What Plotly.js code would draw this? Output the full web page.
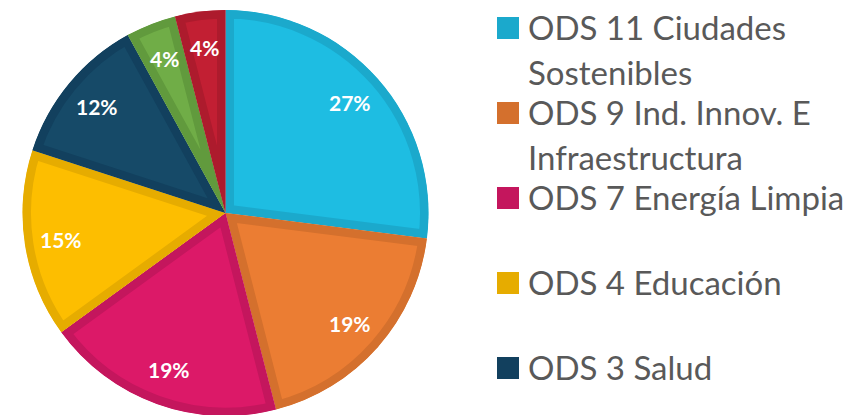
<!DOCTYPE html>
<html><head><meta charset="utf-8">
<script src="https://cdn.plot.ly/plotly-3.0.1.min.js"></script>
<style>html,body{margin:0;padding:0;overflow:hidden;background:#fff}#chart{width:856px;height:421px}</style>
</head><body><div id="chart"></div>
<script>
// ---- data ----
var categories = ["ODS 11 Ciudades Sostenibles", "ODS 9 Ind. Innov. E Infraestructura", "ODS 7 Energía Limpia", "ODS 4 Educación", "ODS 3 Salud", "Otro 1", "Otro 2"];
var values = [27, 19, 19, 15, 12, 4, 4];
var legendLines = [["ODS 11 Ciudades", "Sostenibles"], ["ODS 9 Ind. Innov. E", "Infraestructura"], ["ODS 7 Energía Limpia"], ["ODS 4 Educación"], ["ODS 3 Salud"]];
var fillColors = ["#1EBDE2", "#EB7D33", "#DC1968", "#FDBE00", "#164A68", "#70AD47", "#C21F33"];
var borderColors = ["#1BA9CC", "#D4702D", "#C4165D", "#E6AC00", "#12405E", "#619A3D", "#AD1B2D"];

// ---- geometry ----
var W = 856, H = 421;
var cx = 225.5, cy = 213, R = 203;

var trace = {
  type: "pie",
  labels: categories,
  values: values,
  sort: false,
  direction: "clockwise",
  rotation: 0,
  textinfo: "none",
  hoverinfo: "skip",
  showlegend: false,
  domain: {x: [(cx - R) / W, (cx + R) / W], y: [(H - (cy + R)) / H, (H - (cy - R)) / H]},
  marker: {colors: fillColors, line: {color: borderColors, width: 17}}
};

var total = values.reduce(function (a, b) { return a + b; }, 0);
var annotations = [], shapes = [];
var cum = 0;
values.forEach(function (v) {
  var mid = (cum + v / 2) / total * 2 * Math.PI;
  cum += v;
  var rr = 0.82 * R;
  var px = cx + rr * Math.sin(mid), py = cy - rr * Math.cos(mid);
  annotations.push({
    text: Math.round(v / total * 100) + "%",
    x: px / W, y: 1 - py / H, xref: "paper", yref: "paper",
    xanchor: "center", yanchor: "middle", showarrow: false,
    font: {family: "Lato, 'Open Sans', sans-serif", size: 21, color: "#ffffff", weight: 700}
  });
});

legendLines.forEach(function (lines, i) {
  var yc = 28 + i * 85;
  shapes.push({
    type: "rect", xref: "paper", yref: "paper",
    x0: 497 / W, x1: 519 / W, y0: 1 - (yc - 11) / H, y1: 1 - (yc + 11) / H,
    fillcolor: borderColors[i], line: {width: 0}
  });
  lines.forEach(function (t, j) {
    annotations.push({
      text: t, x: 526 / W, y: 1 - (yc - 1 + j * 45) / H, xref: "paper", yref: "paper",
      xanchor: "left", yanchor: "middle", showarrow: false,
      font: {family: "Lato, 'Open Sans', sans-serif", size: 33, color: "#595959"}
    });
  });
});

var layout = {
  width: W, height: H,
  margin: {l: 0, r: 0, t: 0, b: 0},
  paper_bgcolor: "#ffffff",
  showlegend: false,
  annotations: annotations,
  shapes: shapes
};

Plotly.newPlot("chart", [trace], layout, {staticPlot: true, displayModeBar: false}).then(function (gd) {
  var ns = "http://www.w3.org/2000/svg";
  var svg = gd.querySelector("svg.main-svg");
  var defs = svg.querySelector("defs") || svg.insertBefore(document.createElementNS(ns, "defs"), svg.firstChild);
  gd.querySelectorAll("g.slice path.surface").forEach(function (p, i) {
    var cp = document.createElementNS(ns, "clipPath");
    cp.setAttribute("id", "sliceclip" + i);
    cp.setAttribute("clipPathUnits", "userSpaceOnUse");
    var pp = document.createElementNS(ns, "path");
    pp.setAttribute("d", p.getAttribute("d"));
    if (p.getAttribute("transform")) pp.setAttribute("transform", p.getAttribute("transform"));
    cp.appendChild(pp);
    defs.appendChild(cp);
    p.setAttribute("clip-path", "url(#sliceclip" + i + ")");
  });
});
</script>
</body></html>
